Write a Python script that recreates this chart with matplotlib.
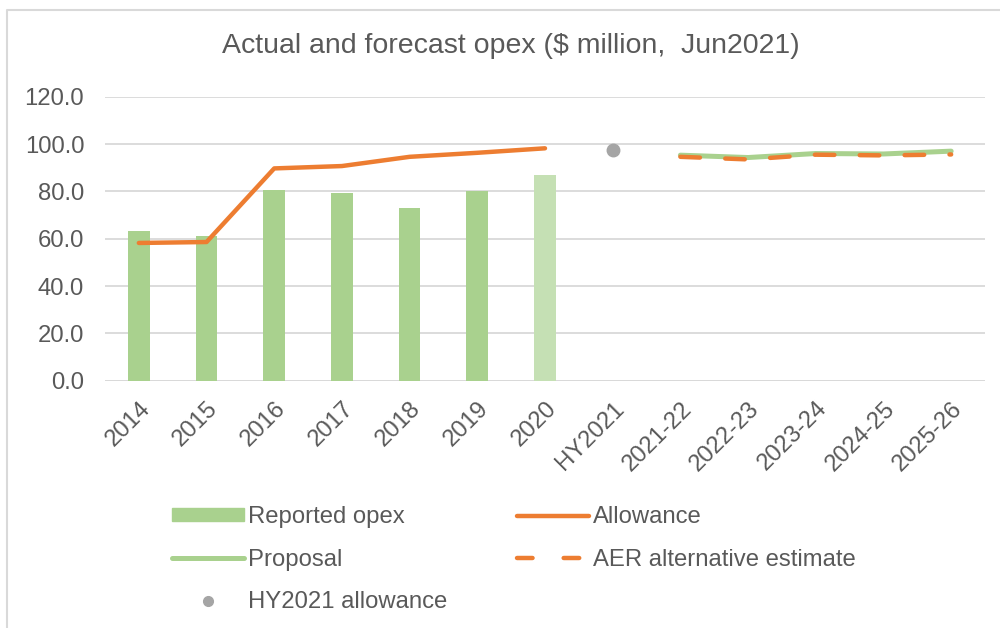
import matplotlib
matplotlib.use("Agg")
import matplotlib.pyplot as plt
import numpy as np
from matplotlib.patches import Rectangle
from matplotlib.lines import Line2D

categories = ["2014", "2015", "2016", "2017", "2018", "2019", "2020", "HY2021",
              "2021-22", "2022-23", "2023-24", "2024-25", "2025-26"]
reported_opex = [63.1, 61.0, 80.5, 79.4, 73.0, 80.1, 87.0]
allowance = [58.2, 58.6, 89.7, 90.7, 94.6, 96.3, 98.2]
hy2021_allowance = [97.5]
proposal = [95.3, 94.3, 96.0, 95.8, 97.0]
aer_estimate = [94.6, 93.5, 95.5, 95.2, 95.6]
yticks = [0, 20, 40, 60, 80, 100, 120]

plt.rcParams['font.family'] = ['Liberation Sans', 'DejaVu Sans']
text_col = "#595959"
green = "#A9D18E"
green_light = "#C5E0B4"
orange = "#ED7D31"
grey = "#A5A5A5"
fs = 17.2

fig = plt.figure(figsize=(10, 6.28), dpi=100)
ax = fig.add_axes([0.105, 0.3938, 0.88, 0.4522])

x = np.arange(len(categories))
bar_colors = [green] * (len(reported_opex) - 1) + [green_light]
ax.bar(x[:len(reported_opex)], reported_opex, width=0.32, color=bar_colors, zorder=2)
ax.plot(x[:len(allowance)], allowance, color=orange, lw=3.2, solid_capstyle='round',
        solid_joinstyle='round', zorder=3)
ax.plot([x[7]], hy2021_allowance, 'o', color=grey, ms=9, zorder=3)
ax.plot(x[8:], proposal, color=green, lw=3.6, solid_capstyle='round', zorder=3)
ax.plot(x[8:], aer_estimate, color=orange, lw=3.2, dashes=(4.4, 5.7),
        dash_capstyle='round', zorder=4)

ax.set_xlim(-0.5, len(categories) - 0.5)
ax.set_ylim(0, 120)
ax.set_yticks(yticks)
ax.set_yticklabels([f"{v:.1f}" for v in yticks], fontsize=fs, color=text_col)
ax.set_xticks(x)
ax.set_xticklabels(categories, rotation=45, ha='right', rotation_mode='anchor',
                   fontsize=fs, color=text_col)
ax.tick_params(axis='y', length=0, pad=15)
ax.tick_params(axis='x', length=0, pad=12)
ax.yaxis.grid(True, color="#D9D9D9", lw=1.3, zorder=0)
ax.set_axisbelow(True)
for s in ax.spines.values():
    s.set_visible(False)
ax.axhline(0, color="#D9D9D9", lw=1.3, zorder=1)

fig.text(0.511, 0.927, "Actual and forecast opex ($ million,  Jun2021)", ha='center',
         va='center', fontsize=20.5, color=text_col)

handles = [
    Rectangle((0, 0), 1, 1, color=green),
    Line2D([], [], color=green, lw=3.6, solid_capstyle='round'),
    Line2D([], [], ls='none', marker='o', color=grey, ms=7),
    Line2D([], [], color=orange, lw=3.2, solid_capstyle='round'),
    Line2D([], [], color=orange, lw=3.2, dashes=(3.5, 7), dash_capstyle='round'),
]
labels = ["Reported opex", "Proposal", "HY2021 allowance", "Allowance",
          "AER alternative estimate"]
leg = fig.legend(handles, labels, ncol=2, loc='upper left', bbox_to_anchor=(0.172, 0.194),
                 frameon=False, fontsize=fs, handlelength=3.0, handletextpad=0.2,
                 labelspacing=0.86, columnspacing=2.9, handleheight=0.5,
                 borderpad=0, borderaxespad=0)
for t in leg.get_texts():
    t.set_color(text_col)

fig.add_artist(Line2D([0.007, 0.007, 1.0], [0.0, 1 - 10 / 628, 1 - 10 / 628],
                      color="#D9D9D9", lw=1.5, transform=fig.transFigure))

fig.savefig("out.png", dpi=100)
